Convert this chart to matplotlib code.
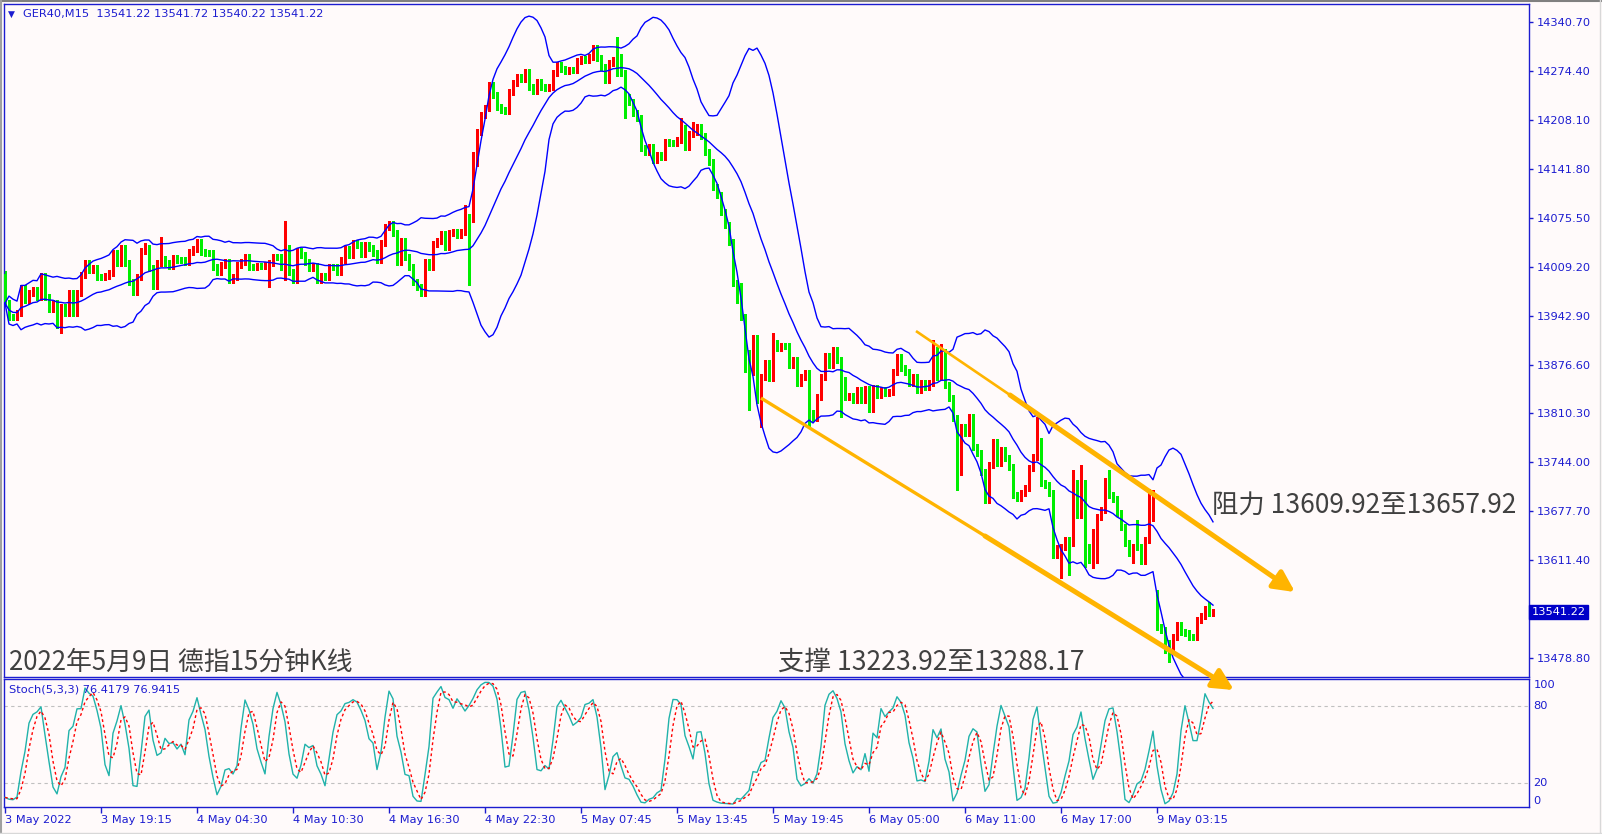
import matplotlib
matplotlib.use("Agg")
import matplotlib.pyplot as plt
import numpy as np
import pandas as pd
from matplotlib.lines import Line2D

# ---------------- data ----------------
symbol_line = "GER40,M15  13541.22 13541.72 13540.22 13541.22"
stoch_label = "Stoch(5,3,3) 76.4179 76.9415"
title_cn = "2022年5月9日 德指15分钟K线"
resist_text = "阻力 13609.92至13657.92"
support_text = "支撑 13223.92至13288.17"

closes = [
    13959.8, 13940.9, 13940.9, 13946.3, 13980.2, 13963.9, 13973.4, 13977.4, 13968.0, 13996.4,
    13968.0, 13951.7, 13959.8, 13930.1, 13954.4, 13946.3, 13973.4, 13946.3, 13973.4, 13997.8,
    14014.0, 14004.5, 14007.2, 13995.0, 13995.0, 13996.4, 14000.5, 14027.5, 14014.0, 14034.3,
    14014.0, 13988.3, 13974.7, 13995.0, 14030.3, 14034.3, 14007.2, 13982.9, 14014.0, 14019.4,
    14014.0, 14009.9, 14020.8, 14018.1, 14018.1, 14015.4, 14028.9, 14033.0, 14042.4, 14028.9,
    14027.5, 14027.5, 14008.6, 14001.8, 14011.3, 14015.4, 13991.0, 13995.0, 14011.3, 14015.4,
    14022.1, 14008.6, 14008.6, 14009.9, 14009.9, 14011.3, 14014.0, 14022.1, 14022.1, 14008.6,
    14034.3, 14001.8, 13991.0, 14030.3, 14024.8, 14015.4, 14007.2, 14009.9, 13991.0, 13996.4,
    13995.0, 14008.6, 14008.6, 14001.8, 14018.1, 14033.0, 14024.8, 14041.1, 14038.4, 14026.2,
    14038.4, 14034.3, 14027.5, 14018.1, 14041.1, 14062.7, 14066.8, 14054.6, 14015.4, 14043.8,
    14022.1, 14008.6, 13988.3, 13981.5, 13973.4, 14015.4, 14008.6, 14039.7, 14043.8, 14053.3,
    14035.7, 14054.6, 14056.0, 14051.9, 14056.0, 14076.3, 14073.6, 14149.4, 14191.4, 14214.4,
    14223.9, 14255.0, 14241.5, 14225.2, 14221.2, 14219.8, 14245.5, 14257.7, 14265.8, 14263.1,
    14272.6, 14252.3, 14246.9, 14259.1, 14252.3, 14251.0, 14252.3, 14271.3, 14282.1, 14276.7,
    14274.0, 14275.3, 14275.3, 14287.5, 14290.2, 14288.9, 14292.9, 14305.1, 14291.6, 14279.4,
    14261.8, 14284.8, 14288.9, 14271.3, 14271.3, 14238.8, 14232.0, 14217.1, 14210.3, 14169.7,
    14164.3, 14171.1, 14153.5, 14160.2, 14157.5, 14177.8, 14176.5, 14176.5, 14180.5, 14196.8,
    14171.1, 14188.7, 14191.4, 14198.1, 14186.0, 14164.3, 14150.8, 14116.9, 14106.1, 14083.1,
    14065.5, 14042.4, 13986.9, 13982.9, 13940.9, 13892.1, 13866.4, 13912.5, 13828.5, 13859.6,
    13878.6, 13858.3, 13905.7, 13898.9, 13901.6, 13901.6, 13875.9, 13882.7, 13851.5, 13859.6,
    13865.1, 13810.9, 13804.1, 13832.6, 13859.6, 13888.1, 13875.9, 13896.2, 13882.7, 13855.6,
    13832.6, 13833.9, 13828.5, 13842.0, 13828.5, 13843.4, 13816.3, 13844.8, 13835.3, 13842.0,
    13838.0, 13839.3, 13866.4, 13886.7, 13871.8, 13866.4, 13851.5, 13859.6, 13842.0, 13851.5,
    13846.1, 13851.5, 13896.2, 13859.6, 13893.5, 13848.8, 13831.2, 13804.1, 13744.6, 13791.9,
    13783.8, 13805.5, 13764.9, 13756.7, 13731.0, 13693.1, 13740.5, 13771.6, 13743.2, 13760.8,
    13750.0, 13737.8, 13699.9, 13695.8, 13702.6, 13709.4, 13736.4, 13751.3, 13767.6, 13716.1,
    13713.4, 13702.6, 13618.6, 13628.1, 13629.5, 13638.9, 13634.9, 13716.1, 13672.8, 13709.4,
    13629.5, 13611.9, 13649.8, 13670.1, 13679.6, 13713.4, 13699.9, 13694.5, 13675.5, 13656.5,
    13634.9, 13621.3, 13629.5, 13629.5, 13610.5, 13638.9, 13668.7, 13670.1, 13521.1, 13517.1,
    13499.5, 13492.7, 13507.6, 13523.9, 13514.4, 13513.0, 13507.6, 13507.6, 13530.6, 13536.0,
    13545.5, 13540.1, 13541.22,
]
first_open = 13999.0
gap_opens = {288: 13557.7}          # session gap (Monday open)
typical_wick = 4.0                  # ordinary short wick, price points
long_highs = {35: 14041.1, 39: 14049.2, 70: 14070.9, 115: 14092.5, 117: 14164.3,
              153: 14320.0, 154: 14297.0, 169: 14210.3, 172: 14204.9, 192: 13919.2,
              232: 13910.0, 234: 13905.0, 258: 13805.5, 259: 13777.0, 267: 13733.7,
              268: 13720.2, 269: 13740.5, 270: 13720.2, 275: 13722.9, 276: 13733.7,
              283: 13666.0, 286: 13708.0, 287: 13706.6, 288: 13571.2, 301: 13555.0}
long_lows = {13: 13926.0, 14: 13919.2, 66: 13981.5, 70: 13991.0, 116: 13984.2,
             155: 14210.3, 183: 13959.8, 185: 13866.4, 186: 13815.0, 189: 13791.9,
             201: 13791.9, 209: 13805.5, 238: 13706.6, 239: 13726.9, 262: 13615.9,
             264: 13587.5, 266: 13591.5, 270: 13602.4, 272: 13601.0, 273: 13607.8,
             282: 13607.8, 290: 13485.9, 291: 13473.8}

time_labels = ["3 May 2022", "3 May 19:15", "4 May 04:30", "4 May 10:30", "4 May 16:30",
               "4 May 22:30", "5 May 07:45", "5 May 13:45", "5 May 19:45", "6 May 05:00",
               "6 May 11:00", "6 May 17:00", "9 May 03:15"]
bars_per_label = 24
price_ticks = [14340.70, 14274.40, 14208.10, 14141.80, 14075.50, 14009.20, 13942.90,
               13876.60, 13810.30, 13744.00, 13677.70, 13611.40, 13478.80]
last_price = 13541.22

# channel lines (bar index, price)
resist_thin = [(227.75, 13921.9), (251.25, 13835.3)]
resist_arrow = [(251.25, 13835.3), (322.5, 13568.5)]
support_thin = [(189.0, 13831.2), (245.0, 13644.4)]
support_arrow = [(245.0, 13644.4), (307.25, 13435.8)]

# ---------------- derived series ----------------
c = np.array(closes, dtype=float)
n = len(c)
o = np.empty(n)
o[0] = first_open
o[1:] = c[:-1]
for k, v in gap_opens.items():
    o[k] = v
hi = np.maximum(o, c) + typical_wick
lo = np.minimum(o, c) - typical_wick
for k, v in long_highs.items():
    hi[k] = max(hi[k], v)
for k, v in long_lows.items():
    lo[k] = min(lo[k], v)

s = pd.Series(c)
mid = s.rolling(20, min_periods=1).mean()
sd = s.rolling(20, min_periods=1).std(ddof=0)
upper = mid + 2 * sd
lower = mid - 2 * sd

hh = pd.Series(hi).rolling(5, min_periods=1).max()
ll = pd.Series(lo).rolling(5, min_periods=1).min()
num = (s - ll).rolling(3, min_periods=1).sum()
den = (hh - ll).rolling(3, min_periods=1).sum()
k_line = 100 * num / den
d_line = k_line.rolling(3, min_periods=1).mean()

# ---------------- style ----------------
BG = "#fffafa"
BLUE = "#0000ff"
AXBLUE = "#1c1cd0"
RED = "#ff0000"
GREEN = "#00ee00"
GOLD = "#ffb400"
TXT = "#404040"
FS = 8.2
W, H = 1602, 834

fig = plt.figure(figsize=(W / 100, H / 100), dpi=100, facecolor=BG)


def rect(l, t, r, b):
    return [l / W, 1 - b / H, (r - l) / W, (b - t) / H]


ax = fig.add_axes(rect(4, 4, 1529, 677))
axs = fig.add_axes(rect(4, 679, 1529, 807))
ax.set_zorder(3)
axs.set_zorder(1)
for a in (ax, axs):
    a.set_facecolor(BG)
    for sp in a.spines.values():
        sp.set_color(AXBLUE)
        sp.set_linewidth(1.0)

x = np.arange(n)
xlim = (-0.25, 381.0)

# candles
up = c > o
cols = np.where(up, RED, GREEN)
ax.vlines(x, lo, hi, colors=cols, linewidth=1.0, zorder=2, antialiased=False)
body_lo = np.minimum(o, c)
body_h = np.maximum(np.abs(c - o), 1.4)
ax.bar(x, body_h, bottom=body_lo, width=0.72, color=cols, linewidth=0, zorder=3,
       antialiased=False)

# bollinger
for ser in (upper, mid, lower):
    ax.plot(x, ser, color=BLUE, lw=1.0, zorder=4)

ax.set_xlim(*xlim)
ax.set_ylim(13453.5, 14364.7)
ax.set_xticks([])
ax.yaxis.tick_right()
ax.set_yticks(price_ticks)
ax.set_yticklabels([f"{v:.2f}" for v in price_ticks])
ax.tick_params(axis="y", direction="out", length=3, width=1, colors=AXBLUE, pad=2.5,
               labelsize=FS, labelcolor=AXBLUE)

# channel lines
ax.plot([p[0] for p in resist_thin], [p[1] for p in resist_thin], color=GOLD, lw=1.9,
        solid_capstyle="butt", zorder=6, clip_on=False)
ax.plot([p[0] for p in support_thin], [p[1] for p in support_thin], color=GOLD, lw=2.4,
        solid_capstyle="butt", zorder=6, clip_on=False)
for seg in (resist_arrow, support_arrow):
    an = ax.annotate("", xy=seg[1], xytext=seg[0], xycoords="data", textcoords="data",
                     arrowprops=dict(arrowstyle="-|>,head_length=0.9,head_width=0.45",
                                     lw=3.6, color=GOLD, shrinkA=0, shrinkB=0,
                                     mutation_scale=14),
                     annotation_clip=False, zorder=6)
    an.arrow_patch.set_clip_on(False)

# price tag
ax.text(1.0015, last_price, f"{last_price:.2f}", transform=ax.get_yaxis_transform(),
        ha="left", va="center", fontsize=FS, color="white", clip_on=False,
        bbox=dict(boxstyle="square,pad=0.2", facecolor="#0000c8", edgecolor="#0000c8"))

# stochastic
axs.plot(x, k_line, color="#20b2aa", lw=1.0, zorder=3)
axs.plot(x, d_line, color=RED, lw=1.0, ls=(0, (2, 2)), zorder=3)
for lev in (80, 20):
    axs.axhline(lev, color="#c0c0c0", lw=0.8, ls=(0, (3, 3)), zorder=1)
axs.set_xlim(*xlim)
axs.set_ylim(1.0, 100.9)
axs.set_yticks([])
ytr = axs.get_yaxis_transform()
axs.text(1.003, 100.0, "100", transform=ytr, ha="left", va="top", fontsize=FS, color=AXBLUE)
axs.text(1.003, 80, "80", transform=ytr, ha="left", va="center", fontsize=FS, color=AXBLUE)
axs.text(1.003, 20, "20", transform=ytr, ha="left", va="center", fontsize=FS, color=AXBLUE)
axs.text(1.003, 2.0, "0", transform=ytr, ha="left", va="bottom", fontsize=FS, color=AXBLUE)

tick_pos = [i * bars_per_label for i in range(len(time_labels))]
axs.set_xticks(tick_pos)
axs.set_xticklabels(time_labels)
axs.tick_params(axis="x", direction="out", length=4, width=1, colors=AXBLUE, pad=2,
                labelsize=FS, labelcolor=AXBLUE)
for lbl in axs.get_xticklabels():
    lbl.set_ha("left")

# texts
def ftext(px, py, s, **kw):
    fig.text(px / W, 1 - py / H, s, **kw)

ftext(8, 14, "\u25bc", fontsize=6.5, color=AXBLUE, ha="left", va="center")
ftext(23, 14, symbol_line, fontsize=FS, color=AXBLUE, ha="left", va="center")
ftext(9, 690, stoch_label, fontsize=FS, color=AXBLUE, ha="left", va="center", zorder=10)
cjk = ["Noto Sans CJK SC", "DejaVu Sans"]
ftext(9, 662, title_cn, fontsize=18.6, color=TXT, ha="left", va="center", family=cjk, zorder=10)
ftext(778, 662, support_text, fontsize=19.1, color=TXT, ha="left", va="center", family=cjk, zorder=10)
ftext(1212, 506, resist_text, fontsize=19.0, color=TXT, ha="left", va="center", family=cjk, zorder=10)

# outer frame lines
fig.add_artist(Line2D([0, 1], [1 - 0.5 / H, 1 - 0.5 / H], color="#808080", lw=1.5))
fig.add_artist(Line2D([0.8 / W, 0.8 / W], [0, 1], color="#a0a0a0", lw=1.5))
fig.add_artist(Line2D([1 - 2 / W, 1 - 2 / W], [0, 1], color="#d8d8d8", lw=1))
fig.add_artist(Line2D([0, 1], [1.5 / H, 1.5 / H], color="#d8d8d8", lw=1))

fig.savefig("out.png", dpi=100, facecolor=BG)
